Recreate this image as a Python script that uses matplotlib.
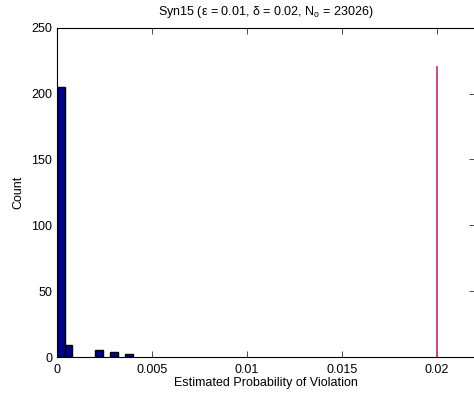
import matplotlib
matplotlib.use("Agg")
import matplotlib.pyplot as plt

plt.rcParams['font.family'] = ['Liberation Sans', 'DejaVu Sans']
plt.rcParams['mathtext.fontset'] = 'custom'
plt.rcParams['mathtext.rm'] = 'Liberation Sans'

# histogram of estimated violation probabilities
bin_centers = [0.0002, 0.0006, 0.0022, 0.0030, 0.0038]
counts = [205, 9, 5, 4, 2]
bin_width = 0.0004

delta = 0.02
delta_line_top = 220

x_ticks = [0, 0.005, 0.01, 0.015, 0.02]
x_tick_labels = ["0", "0.005", "0.01", "0.015", "0.02"]
y_ticks = [0, 50, 100, 150, 200, 250]

fig = plt.figure(figsize=(4.74, 4.0), dpi=100)
ax = fig.add_axes([0.1203, 0.1075, 0.8818, 0.8233])

ax.bar(bin_centers, counts, width=bin_width, color='#00008F',
       edgecolor='black', linewidth=1.0, zorder=2)
ax.plot([delta, delta], [0, delta_line_top], color='#C83C80', lw=1.3, zorder=3)

ax.set_xlim(0, 0.022)
ax.set_ylim(0, 250)
ax.set_xticks(x_ticks)
ax.set_xticklabels(x_tick_labels)
ax.set_yticks(y_ticks)
ax.tick_params(direction='in', top=True, right=True, labelsize=9,
               length=4, width=0.6, colors='#333333', labelcolor='black')
ax.tick_params(axis='x', pad=5)
for s in ax.spines.values():
    s.set_linewidth(0.8)

ax.set_xlabel("Estimated Probability of Violation", fontsize=9, labelpad=1)
ax.set_ylabel("Count", fontsize=9, labelpad=5)
ax.set_title("Syn15 (\u03b5 = 0.01, \u03b4 = 0.02, N$_\\mathrm{o}$ = 23026)",
             fontsize=9, pad=9)

fig.savefig("out.png", dpi=100)
